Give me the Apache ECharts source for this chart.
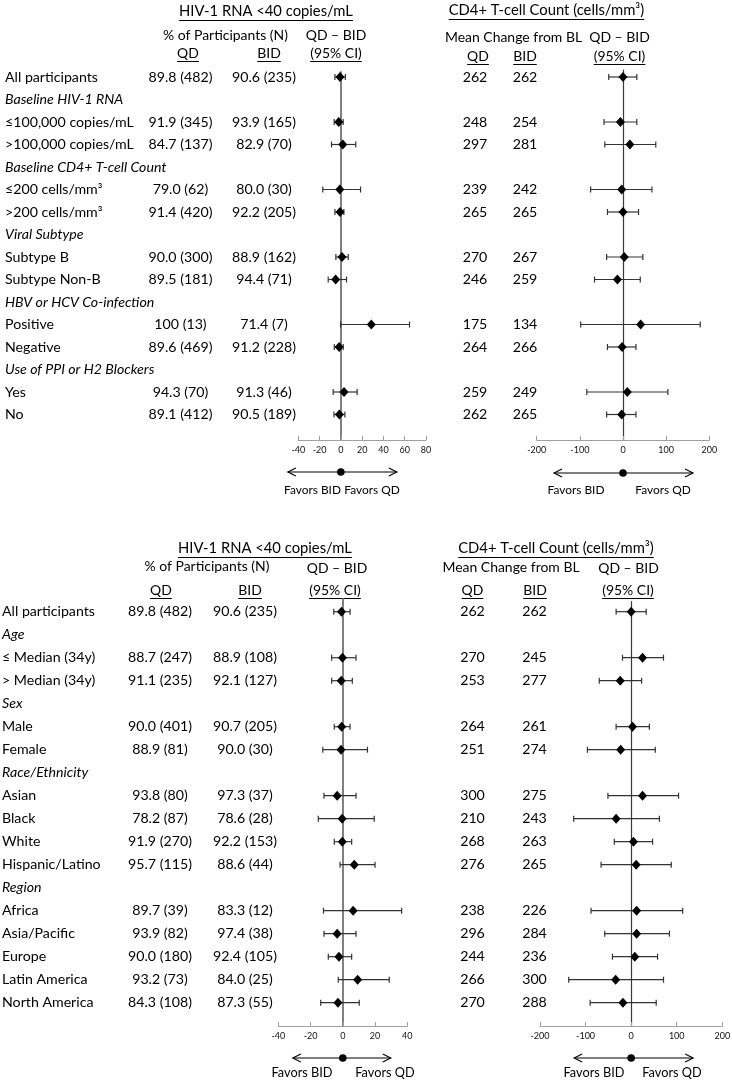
<!DOCTYPE html>
<html><head><meta charset="utf-8">
<script src="https://cdn.jsdelivr.net/npm/echarts@6/dist/echarts.min.js"></script>
<style>html,body{margin:0;padding:0;background:#fff}#c{width:732px;height:1080px}</style>
</head><body><div id="c"></div>
<script>
// ---------------- DATA (top panel) ----------------
const topLabels = ["All participants","Baseline HIV-1 RNA","≤100,000 copies/mL",">100,000 copies/mL","Baseline CD4+ T-cell Count","≤200 cells/mm³",">200 cells/mm³","Viral Subtype","Subtype B","Subtype Non-B","HBV or HCV Co-infection","Positive","Negative","Use of PPI or H2 Blockers","Yes","No"];
const topIsHeader = [0,1,0,0,1,0,0,1,0,0,1,0,0,1,0,0];
const topRnaQD  = ["89.8 (482)","","91.9 (345)","84.7 (137)","","79.0 (62)","91.4 (420)","","90.0 (300)","89.5 (181)","","100 (13)","89.6 (469)","","94.3 (70)","89.1 (412)"];
const topRnaBID = ["90.6 (235)","","93.9 (165)","82.9 (70)","","80.0 (30)","92.2 (205)","","88.9 (162)","94.4 (71)","","71.4 (7)","91.2 (228)","","91.3 (46)","90.5 (189)"];
const topRnaDiff = [-0.8,null,-2.0,1.8,null,-1.0,-0.8,null,1.1,-4.9,null,28.6,-1.6,null,3.0,-1.4];
const topRnaLo   = [-5.6,null,-6.3,-8.8,null,-17,-5.6,null,-4.7,-11.9,null,-0.3,-6.2,null,-7.2,-6.5];
const topRnaHi   = [4.2,null,2.2,14,null,18.5,2.8,null,6.9,5.3,null,64.5,2.2,null,15.3,3.8];
const topCd4QD  = ["262","","248","297","","239","265","","270","246","","175","264","","259","262"];
const topCd4BID = ["262","","254","281","","242","265","","267","259","","134","266","","249","265"];
const topCd4Diff = [0,null,-6,16,null,-3,0,null,3,-13,null,41,-2,null,10,-3];
const topCd4Lo   = [-33,null,-44,-42,null,-75,-36,null,-38,-66,null,-98,-36,null,-84,-38];
const topCd4Hi   = [32,null,32,76,null,67,36,null,46,40,null,179,30,null,104,30];

// ---------------- DATA (bottom panel) ----------------
const botLabels = ["All participants","Age","≤ Median (34y)","> Median (34y)","Sex","Male","Female","Race/Ethnicity","Asian","Black","White","Hispanic/Latino","Region","Africa","Asia/Pacific","Europe","Latin America","North America"];
const botIsHeader = [0,1,0,0,1,0,0,1,0,0,0,0,1,0,0,0,0,0];
const botRnaQD  = ["89.8 (482)","","88.7 (247)","91.1 (235)","","90.0 (401)","88.9 (81)","","93.8 (80)","78.2 (87)","91.9 (270)","95.7 (115)","","89.7 (39)","93.9 (82)","90.0 (180)","93.2 (73)","84.3 (108)"];
const botRnaBID = ["90.6 (235)","","88.9 (108)","92.1 (127)","","90.7 (205)","90.0 (30)","","97.3 (37)","78.6 (28)","92.2 (153)","88.6 (44)","","83.3 (12)","97.4 (38)","92.4 (105)","84.0 (25)","87.3 (55)"];
const botRnaDiff = [-0.8,null,-0.2,-1.0,null,-0.7,-1.1,null,-3.5,-0.4,-0.3,7.1,null,6.4,-3.5,-2.4,9.2,-3.0];
const botRnaLo   = [-5.6,null,-6.9,-6.9,null,-5.3,-12.4,null,-11.7,-15.2,-5.3,-1.7,null,-12,-11.7,-9,-2.8,-13.7];
const botRnaHi   = [4.5,null,8.2,5.9,null,4.5,15.3,null,8.2,19.5,5.5,20,null,36.5,8.2,5.5,28.8,10.2];
const botCd4QD  = ["262","","270","253","","264","251","","300","210","268","276","","238","296","244","266","270"];
const botCd4BID = ["262","","245","277","","261","274","","275","243","263","265","","226","284","236","300","288"];
const botCd4Diff = [0,null,25,-24,null,3,-23,null,25,-33,5,11,null,12,12,8,-34,-18];
const botCd4Lo   = [-33,null,-19,-70,null,-33,-96,null,-51,-126,-37,-66,null,-88,-58,-41,-137,-90];
const botCd4Hi   = [33,null,71,23,null,40,53,null,104,62,47,88,null,113,84,58,71,55];

// axis ranges / ticks
const rnaTopAxis = {min:-40, max:80, interval:20};
const rnaBotAxis = {min:-40, max:40, interval:20};
const cd4Axis    = {min:-200, max:200, interval:100};

// ---------------- FONT FITTING ----------------
const FAM = 'Lato';
const FONT = 'Lato, "Open Sans", sans-serif';
const cv = document.createElement('canvas').getContext('2d');
function tw(text, size, style){ cv.font = (style||'') + ' ' + size + 'px ' + FAM; return cv.measureText(text).width; }
function fit(text, target, style){ return +(target / tw(text, 100, style) * 100).toFixed(2); }
const FS_ROW = fit('All participants', 93);
const FS_HEAD = fit('% of Participants (N)', 125);
const FS_TITLE = fit('HIV-1 RNA <40 copies/mL', 174);
const FS_TICK = fit('-100', 19);
const FS_FAV_TOP = fit('Favors BID', 57);
const FS_FAV_BOT = fit('Favors BID', 61);

// ---------------- LAYOUT ----------------
const panels = [
  {grid:{left:298.3, top:72, width:127.7, height:368}, ax:rnaTopAxis, rowTop:77, pitch:22.5,
   diff:topRnaDiff, lo:topRnaLo, hi:topRnaHi, ref:{color:'#808080', width:2},
   cols:[{t:topLabels, x:5, align:'left', it:topIsHeader},{t:topRnaQD, x:180.5},{t:topRnaBID, x:264}],
   arrow:{y:472, l:53, r:56}, fav:{y:490, b:312.5, q:372, fs:FS_FAV_TOP}},
  {grid:{left:536.7, top:70, width:172.6, height:370}, ax:cd4Axis, rowTop:77, pitch:22.5,
   diff:topCd4Diff, lo:topCd4Lo, hi:topCd4Hi, ref:{color:'#3a3a3a', width:1.2},
   cols:[{t:topCd4QD, x:475},{t:topCd4BID, x:525}],
   arrow:{y:473, l:69, r:70}, fav:{y:490, b:576, q:663, fs:FS_FAV_TOP}},
  {grid:{left:278.3, top:599, width:129, height:427}, ax:rnaBotAxis, rowTop:611.7, pitch:23.0,
   diff:botRnaDiff, lo:botRnaLo, hi:botRnaHi, ref:{color:'#808080', width:2},
   cols:[{t:botLabels, x:2, align:'left', it:botIsHeader},{t:botRnaQD, x:160},{t:botRnaBID, x:245}],
   arrow:{y:1058, l:50, r:48}, fav:{y:1073, b:302, q:385, fs:FS_FAV_BOT}},
  {grid:{left:540, top:601.7, width:182.3, height:424.3}, ax:cd4Axis, rowTop:611.7, pitch:23.0,
   diff:botCd4Diff, lo:botCd4Lo, hi:botCd4Hi, ref:{color:'#3a3a3a', width:1.2},
   cols:[{t:botCd4QD, x:472.5},{t:botCd4BID, x:534.5}],
   arrow:{y:1058, l:57, r:62}, fav:{y:1073, b:594, q:672, fs:FS_FAV_BOT}}
];

const grids = [], xAxes = [], yAxes = [], series = [], graphics = [];
const BAR = '#333333';

panels.forEach((P, k) => {
  const g = P.grid;
  grids.push({left:g.left, top:g.top, width:g.width, height:g.height, containLabel:false, outerBoundsMode:'none'});
  xAxes.push({gridIndex:k, type:'value', min:P.ax.min, max:P.ax.max, interval:P.ax.interval,
    axisLine:{show:true, onZero:false, lineStyle:{color:'#a0a0a0', width:1}},
    axisTick:{show:true, inside:true, length:4, lineStyle:{color:'#a0a0a0', width:1}},
    axisLabel:{fontSize:FS_TICK, color:'#111', margin:6, fontFamily:FONT},
    splitLine:{show:false}});
  yAxes.push({gridIndex:k, type:'value', inverse:true,
    min:(g.top - P.rowTop)/P.pitch, max:(g.top + g.height - P.rowTop)/P.pitch,
    axisLine:{show:true, onZero:true, lineStyle:{color:P.ref.color, width:P.ref.width}},
    axisTick:{show:false}, axisLabel:{show:false}, splitLine:{show:false}});

  // forest marks
  const fdata = [];
  P.diff.forEach((d, i) => { if (d !== null) fdata.push([d, i, P.lo[i], P.hi[i]]); });
  series.push({type:'custom', xAxisIndex:k, yAxisIndex:k, clip:false, silent:true, z:5,
    encode:{x:0, y:1}, data:fdata,
    renderItem:function(params, api){
      const r = api.value(1);
      const p = api.coord([api.value(0), r]);
      const a = api.coord([api.value(2), r]);
      const b = api.coord([api.value(3), r]);
      const cap = 3, ls = {stroke:BAR, lineWidth:1.2};
      return {type:'group', children:[
        {type:'line', shape:{x1:a[0], y1:p[1], x2:b[0], y2:p[1]}, style:ls},
        {type:'line', shape:{x1:a[0], y1:p[1]-cap, x2:a[0], y2:p[1]+cap}, style:ls},
        {type:'line', shape:{x1:b[0], y1:p[1]-cap, x2:b[0], y2:p[1]+cap}, style:ls},
        {type:'polygon', shape:{points:[[p[0],p[1]-5],[p[0]+4.5,p[1]],[p[0],p[1]+5],[p[0]-4.5,p[1]]]}, style:{fill:'#000'}}
      ]};
    }});

  // table text tied to rows
  const n = P.cols[0].t.length;
  const tdata = []; for (let i = 0; i < n; i++) tdata.push([0, i]);
  series.push({type:'custom', xAxisIndex:k, yAxisIndex:k, clip:false, silent:true, z:4,
    encode:{x:0, y:1}, data:tdata,
    renderItem:function(params, api){
      const i = api.value(1);
      const y = api.coord([0, i])[1];
      const kids = [];
      P.cols.forEach(c => {
        const s = c.t[i]; if (!s) return;
        const ital = c.it && c.it[i];
        kids.push({type:'text', x:c.x, y:y, style:{text:s, fill:'#000',
          font:(ital ? 'italic ' : '') + FS_ROW + 'px ' + FONT,
          textAlign:c.align || 'center', textVerticalAlign:'middle'}});
      });
      return {type:'group', children:kids};
    }});

  // arrow + favors
  const x0 = g.left + (0 - P.ax.min) / (P.ax.max - P.ax.min) * g.width;
  const A = P.arrow, xl = x0 - A.l, xr = x0 + A.r, ay = A.y;
  const als = {stroke:'#000', lineWidth:1.1};
  graphics.push({type:'line', shape:{x1:xl, y1:ay, x2:xr, y2:ay}, style:als, silent:true});
  graphics.push({type:'polyline', shape:{points:[[xl+8,ay-4],[xl,ay],[xl+8,ay+4]]}, style:Object.assign({fill:null}, als), silent:true});
  graphics.push({type:'polyline', shape:{points:[[xr-8,ay-4],[xr,ay],[xr-8,ay+4]]}, style:Object.assign({fill:null}, als), silent:true});
  graphics.push({type:'circle', shape:{cx:x0, cy:ay, r:3.8}, style:{fill:'#000'}, silent:true});
  graphics.push({type:'text', x:P.fav.b, y:P.fav.y, style:{text:'Favors BID', font:P.fav.fs+'px '+FONT, fill:'#000', textAlign:'center', textVerticalAlign:'middle'}, silent:true});
  graphics.push({type:'text', x:P.fav.q, y:P.fav.y, style:{text:'Favors QD', font:P.fav.fs+'px '+FONT, fill:'#000', textAlign:'center', textVerticalAlign:'middle'}, silent:true});
});

// headers
function head(text, cx, cy, size, underline){
  graphics.push({type:'text', x:cx, y:cy, style:{text:text, font:size+'px '+FONT, fill:'#000', textAlign:'center', textVerticalAlign:'middle'}, silent:true});
  if (underline){
    const w = tw(text, size);
    const uy = Math.round(cy + size*0.6) + 0.5;
    graphics.push({type:'line', shape:{x1:cx-w/2, y1:uy, x2:cx+w/2, y2:uy}, style:{stroke:'#000', lineWidth:1}, silent:true});
  }
}
const headers = [
  // top
  ['HIV-1 RNA <40 copies/mL', 266, 11, FS_TITLE, true],
  ['CD4+ T-cell Count (cells/mm³)', 546.5, 10, FS_TITLE, true],
  ['% of Participants (N)', 225.5, 35.5, FS_HEAD, false],
  ['QD – BID', 336, 35.5, FS_HEAD, false],
  ['QD', 188, 53, FS_HEAD, true],
  ['BID', 269, 53, FS_HEAD, true],
  ['(95% CI)', 336, 53, FS_HEAD, true],
  ['Mean Change from BL', 513.5, 37, FS_HEAD, false],
  ['QD – BID', 619.5, 37, FS_HEAD, false],
  ['QD', 478, 56, FS_HEAD, true],
  ['BID', 525, 56, FS_HEAD, true],
  ['(95% CI)', 619.5, 56, FS_HEAD, true],
  // bottom
  ['HIV-1 RNA <40 copies/mL', 265, 548, FS_TITLE, true],
  ['CD4+ T-cell Count (cells/mm³)', 556, 548, FS_TITLE, true],
  ['% of Participants (N)', 207, 566, FS_HEAD, false],
  ['QD – BID', 337, 568, FS_HEAD, false],
  ['QD', 161, 590, FS_HEAD, true],
  ['BID', 250, 590, FS_HEAD, true],
  ['(95% CI)', 335, 590, FS_HEAD, true],
  ['Mean Change from BL', 511, 567, FS_HEAD, false],
  ['QD – BID', 628.5, 568, FS_HEAD, false],
  ['QD', 472.5, 590, FS_HEAD, true],
  ['BID', 535, 590, FS_HEAD, true],
  ['(95% CI)', 628, 590, FS_HEAD, true]
];
headers.forEach(h => head.apply(null, h));

const chart = echarts.init(document.getElementById('c'), null, {renderer:'canvas', width:732, height:1080});
chart.setOption({
  animation:false,
  backgroundColor:'#ffffff',
  textStyle:{fontFamily:FONT},
  grid:grids, xAxis:xAxes, yAxis:yAxes, series:series,
  graphic:{elements:graphics}
});
</script></body></html>
